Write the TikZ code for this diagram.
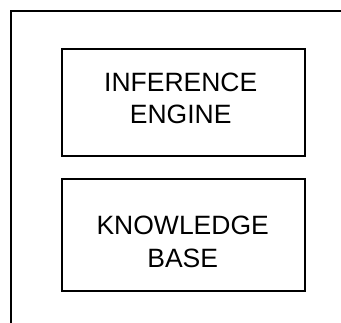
\documentclass[tikz,border=0pt]{standalone}
\usepackage{fontspec}
\setmainfont{Liberation Sans}
\begin{document}
\begin{tikzpicture}[x=1pt,y=-1pt,
  frame/.style={line width=2pt},
  modulebox/.style={draw,line width=2pt,minimum width=243pt,minimum height=107pt,inner sep=0pt},
  label/.style={align=center,inner sep=0pt,font=\fontsize{26.5pt}{32.7pt}\selectfont}]
  \useasboundingbox (0,0) rectangle (341,323);
  % outer frame (top and left edges)
  \coordinate (fbl) at (11,323);
  \coordinate (ftl) at (11,11);
  \coordinate (ftr) at (341,11);
  \draw[frame] (fbl) -- (ftl) -- (ftr);
  % modules
  \node[modulebox] (engine) at (183.5,102.5) {};
  \node[modulebox,minimum height=112pt] (kb) at (183.3,235.5) {};
  \node[label] (enginetext) at (180.7,98.3) {INFERENCE\\ENGINE};
  \node[label] (kbtext) at (182.7,241.9) {KNOWLEDGE\\BASE};
\end{tikzpicture}
\end{document}
